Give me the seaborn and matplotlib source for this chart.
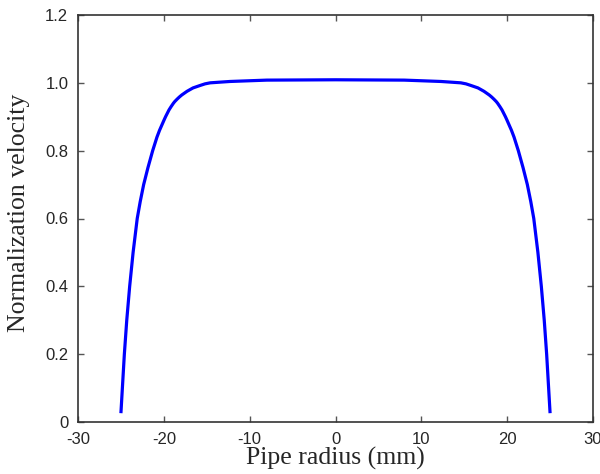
import matplotlib
matplotlib.use("Agg")
import matplotlib.pyplot as plt
import seaborn as sns
import pandas as pd

# Data
radius_mm = [-25.0, -24.83, -24.60, -24.32, -23.98, -23.58, -23.10, -22.75, -22.35, -21.85,
             -21.30, -20.80, -20.50, -19.98, -19.80, -19.60, -19.40, -19.15, -18.88, -18.72,
             -18.45, -18.20, -17.92, -17.30, -16.60, -15.80, -15.20, -14.60, -12.30, -8.0, 0.0,
             8.0, 12.30, 14.60, 15.20, 15.80, 16.60, 17.30, 17.92, 18.20, 18.45,
             18.72, 18.88, 19.15, 19.40, 19.60, 19.80, 19.98, 20.50, 20.80, 21.30,
             21.85, 22.35, 22.75, 23.10, 23.58, 23.98, 24.32, 24.60, 24.83, 25.0]
velocity = [0.026, 0.10, 0.20, 0.30, 0.40, 0.50, 0.60, 0.65, 0.70, 0.75,
            0.80, 0.84, 0.86, 0.89, 0.90, 0.91, 0.92, 0.93, 0.94, 0.945,
            0.952, 0.958, 0.964, 0.975, 0.985, 0.992, 0.997, 1.000, 1.004, 1.008, 1.009,
            1.008, 1.004, 1.000, 0.997, 0.992, 0.985, 0.975, 0.964, 0.958, 0.952,
            0.945, 0.94, 0.93, 0.92, 0.91, 0.90, 0.89, 0.86, 0.84, 0.80,
            0.75, 0.70, 0.65, 0.60, 0.50, 0.40, 0.30, 0.20, 0.10, 0.026]

xticks = [-30, -20, -10, 0, 10, 20, 30]
xtick_labels = ["-30", "-20", "-10", "0", "10", "20", "30"]
yticks = [0, 0.2, 0.4, 0.6, 0.8, 1.0, 1.2]
ytick_labels = ["0", "0.2", "0.4", "0.6", "0.8", "1.0", "1.2"]

df = pd.DataFrame({"r": radius_mm, "v": velocity})

sns.set_style("ticks")
plt.rcParams["font.family"] = ["Liberation Sans", "DejaVu Sans"]

fig = plt.figure(figsize=(6.0, 4.74), dpi=100)
ax = fig.add_axes([78 / 600, 52 / 474, (593 - 78) / 600, (422 - 15) / 474])

sns.lineplot(data=df, x="r", y="v", ax=ax, color="#0000ff", linewidth=2.3,
             sort=False, estimator=None, solid_joinstyle="round",
             solid_capstyle="butt")

ax.set_xlim(-30, 30)
ax.set_ylim(0, 1.2)
ax.set_xticks(xticks)
ax.set_xticklabels(xtick_labels)
ax.set_yticks(yticks)
ax.set_yticklabels(ytick_labels)

ax.tick_params(direction="in", top=True, right=True, length=4, width=1,
               color="#555555", labelsize=12, pad=7)
ax.tick_params(axis="x", pad=7)
for s in ax.spines.values():
    s.set_visible(True)
    s.set_linewidth(1.2)
    s.set_color("#333333")

ax.set_xlabel("Pipe radius (mm)", family=["Liberation Serif", "DejaVu Serif"],
              fontsize=18.5, labelpad=0)
ax.set_ylabel("Normalization velocity", family=["Liberation Serif", "DejaVu Serif"],
              fontsize=18.5, labelpad=8)
ax.yaxis.set_label_coords(-0.094, 0.515)

fig.savefig("out.png", dpi=100)
